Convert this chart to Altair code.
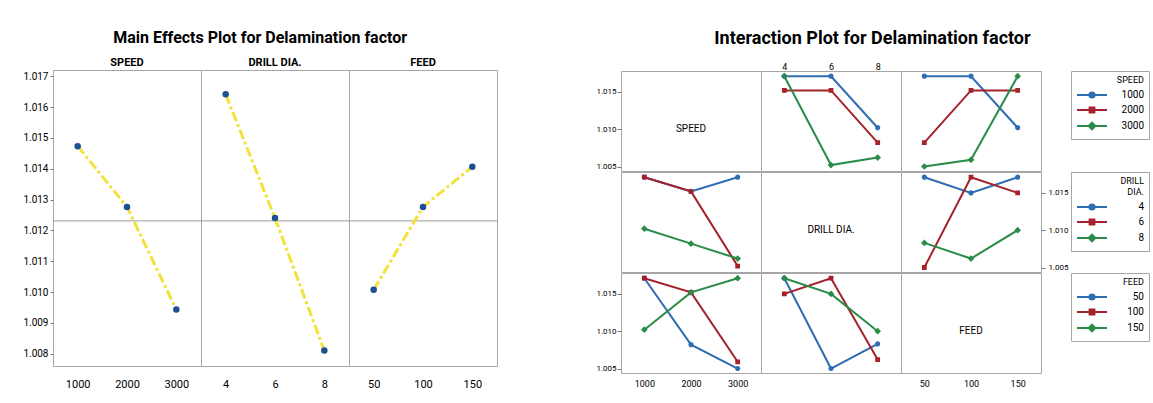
import altair as alt
import pandas as pd

FONT = "Roboto, sans-serif"

# ---------------- data ----------------
factor_names = ["SPEED", "DRILL DIA.", "FEED"]
legend_titles = ["SPEED", ["DRILL", "DIA."], "FEED"]
speed_levels = [1000, 2000, 3000]
drill_levels = [4, 6, 8]
feed_levels = [50, 100, 150]

# main effects (means of delamination factor)
speed_means = [1.01473, 1.01276, 1.00943]
drill_means = [1.01641, 1.01240, 1.00810]
feed_means = [1.01007, 1.01276, 1.01406]
main_y_ticks = [1.008, 1.009, 1.010, 1.011, 1.012, 1.013, 1.014, 1.015, 1.016, 1.017]

# interaction cell means
speed_x_drill = [[1.0171, 1.0171, 1.0102],   # speed 1000 at drill 4,6,8
                 [1.0152, 1.0152, 1.0082],   # speed 2000
                 [1.0171, 1.0052, 1.0062]]   # speed 3000
speed_x_feed = [[1.0171, 1.0171, 1.0102],    # speed 1000 at feed 50,100,150
                [1.0082, 1.0152, 1.0152],
                [1.0050, 1.0059, 1.0171]]
drill_x_feed = [[1.0171, 1.0150, 1.0171],    # drill 4 at feed 50,100,150
                [1.0050, 1.0171, 1.0150],
                [1.0083, 1.0062, 1.0100]]
inter_y_ticks = [1.005, 1.010, 1.015]

# ---------------- style ----------------
YELLOW = "#f2e23a"
DOTBLUE = "#1d4f91"
COLORS = ["#2f6db3", "#a5222a", "#2a8c48"]
FRAME = "#a6a6a6"
# marker plus a horizontal line (line only visible when stroked, i.e. in the legend)
PATHS = [
    "M-3,0H3M0.52,0A0.52,0.52,0,1,1,-0.52,0A0.52,0.52,0,1,1,0.52,0Z",
    "M-3,0H3M-0.48,-0.48H0.48V0.48H-0.48Z",
    "M-3,0H3M0,-0.67L0.67,0L0,0.67L-0.67,0Z",
]

factor_levels = [speed_levels, drill_levels, feed_levels]
main_means = [speed_means, drill_means, feed_means]
x_domains = [[500, 3500], [3, 9], [25, 175]]
MAIN_Y_DOMAIN = [1.0076, 1.0172]
INTER_Y_DOMAIN = [1.0044, 1.0178]
pair_means = {(0, 1): speed_x_drill, (0, 2): speed_x_feed, (1, 2): drill_x_feed}

grand_mean = sum(speed_means) / len(speed_means)

MW, MH, HH = 148, 296, 15
IW, IH = 140, 100


def main_plot(i):
    levels = factor_levels[i]
    df = pd.DataFrame({"level": levels, "mean": main_means[i]})
    xenc = alt.X("level:Q", scale=alt.Scale(domain=x_domains[i], nice=False, zero=False),
                 axis=alt.Axis(values=levels, format="d", title=None, grid=False, domain=False,
                               ticks=False, labelFont=FONT, labelFontSize=11, labelColor="black",
                               labelPadding=12))
    yaxis = None
    if i == 0:
        yaxis = alt.Axis(values=main_y_ticks, format=".3f", title=None, grid=False, domain=False,
                         tickSize=3, tickColor="#777", labelFont=FONT, labelFontSize=10,
                         labelColor="black", labelPadding=2)
    yscale = alt.Scale(domain=MAIN_Y_DOMAIN, nice=False, zero=False)
    base = alt.Chart(df)
    ref = alt.Chart(pd.DataFrame({"mean": [grand_mean]})).mark_rule(
        color="#9c9c9c", strokeWidth=1).encode(y=alt.Y("mean:Q", scale=yscale, axis=yaxis))
    line = base.mark_line(color=YELLOW, strokeWidth=3, strokeDash=[10, 3, 3, 3]).encode(
        xenc, alt.Y("mean:Q", scale=yscale, axis=yaxis))
    pts = base.mark_circle(size=42, color=DOTBLUE, opacity=1).encode(
        xenc, alt.Y("mean:Q", scale=yscale, axis=yaxis))
    return alt.layer(ref, line, pts).properties(width=MW, height=MH)


def main_header(i):
    return alt.Chart(pd.DataFrame({"name": [factor_names[i]]})).mark_text(
        font=FONT, fontSize=11, fontWeight="bold", color="black").encode(
        text="name:N").properties(width=MW, height=HH)


left = alt.vconcat(
    alt.hconcat(*[main_header(i) for i in range(3)], spacing=0, bounds="flush"),
    alt.hconcat(*[main_plot(i) for i in range(3)], spacing=0, bounds="flush"),
    spacing=-1,
).properties(
    title=alt.TitleParams("Main Effects Plot for Delamination  factor", font=FONT, fontSize=16,
                          fontWeight="bold", color="black", anchor="middle", frame="bounds",
                          offset=9))


def cell_mean(r, c, a, b):
    if r < c:
        return pair_means[(r, c)][a][b]
    return pair_means[(c, r)][b][a]


def inter_panel(r, c):
    xl = factor_levels[c]
    xaxis = None
    if r == 0 and c == 1:
        xaxis = alt.Axis(orient="top", values=xl, format="d", title=None, grid=False, domain=False,
                         ticks=False, labelFont=FONT, labelFontSize=9, labelColor="black",
                         labelPadding=0)
    elif r == 2 and c in (0, 2):
        xaxis = alt.Axis(orient="bottom", values=xl, format="d", title=None, grid=False,
                         domain=False, ticks=False, labelFont=FONT, labelFontSize=9,
                         labelColor="black", labelPadding=6)
    yaxis = None
    if c == 0 and r in (0, 2):
        yaxis = alt.Axis(orient="left", values=inter_y_ticks, format=".3f", title=None, grid=False,
                         domain=False, tickSize=4, tickColor="#777", labelFont=FONT,
                         labelFontSize=8, labelColor="black", labelPadding=1)
    elif r == 1 and c == 2:
        yaxis = alt.Axis(orient="right", values=inter_y_ticks, format=".3f", title=None,
                         grid=False, domain=False, tickSize=4, tickColor="#777", labelFont=FONT,
                         labelFontSize=8, labelColor="black", labelPadding=3)
    xenc = alt.X("x:Q", scale=alt.Scale(domain=x_domains[c], nice=False, zero=False), axis=xaxis)
    yenc = alt.Y("mean:Q", scale=alt.Scale(domain=INTER_Y_DOMAIN, nice=False, zero=False),
                 axis=yaxis)
    if r == c:
        df = pd.DataFrame({"x": [xl[1]], "mean": [inter_y_ticks[1]], "label": [factor_names[r]]})
        return alt.Chart(df).mark_text(font=FONT, fontSize=10, color="black").encode(
            xenc, yenc, text="label:N").properties(width=IW, height=IH)
    rows = []
    for a, tl in enumerate(factor_levels[r]):
        for b, xv in enumerate(xl):
            rows.append({"x": xv, "trace": tl, "mean": cell_mean(r, c, a, b)})
    df = pd.DataFrame(rows)
    dom = factor_levels[r]
    legend = alt.Legend(title=legend_titles[r], orient="none", legendX=450, legendY=0,
                        strokeColor=FRAME, fillColor="white", padding=5,
                        titleFont=FONT, titleFontSize=9, titleFontWeight="normal",
                        titleColor="black", titleAlign="right", titleAnchor="end",
                        titlePadding=4,
                        labelFont=FONT, labelFontSize=10, labelColor="black",
                        labelAlign="right", symbolSize=100, symbolStrokeWidth=2,
                        symbolOffset=10, labelOffset=46, rowPadding=1)
    stroke = alt.Stroke("trace:N", scale=alt.Scale(domain=dom, range=COLORS), legend=legend)
    fill = alt.Fill("trace:N", scale=alt.Scale(domain=dom, range=COLORS), legend=legend)
    shape = alt.Shape("trace:N", scale=alt.Scale(domain=dom, range=PATHS), legend=legend)
    base = alt.Chart(df)
    line = base.mark_line(strokeWidth=2).encode(xenc, yenc, stroke=stroke)
    pts = base.mark_point(filled=True, strokeWidth=0, size=100, opacity=1).encode(
        xenc, yenc, fill=fill, stroke=stroke, shape=shape)
    return alt.layer(line, pts).properties(width=IW, height=IH)


spacer = alt.Chart(pd.DataFrame({"t": [""]})).mark_text().encode(text="t:N").properties(
    width=IW, height=3, view=alt.ViewBackground(stroke="transparent"))

inter_rows = [alt.hconcat(*[inter_panel(r, c) for c in range(3)], spacing=0, bounds="flush")
              for r in range(3)]
right = alt.vconcat(spacer, inter_rows[0], inter_rows[1], inter_rows[2], spacing=-1).resolve_scale(
    stroke="independent", fill="independent", shape="independent").properties(
    title=alt.TitleParams("Interaction Plot for Delamination  factor", font=FONT, fontSize=18,
                          fontWeight="bold", color="black", anchor="middle", frame="bounds",
                          offset=6, dy=4))

chart = alt.hconcat(left, right, spacing=97).properties(
    padding={"left": 22, "top": 30, "right": 0, "bottom": 0}
).configure(font=FONT).configure_view(stroke=FRAME, strokeWidth=1)

chart.save("out.html", embed_options={"renderer": "svg", "actions": False})
